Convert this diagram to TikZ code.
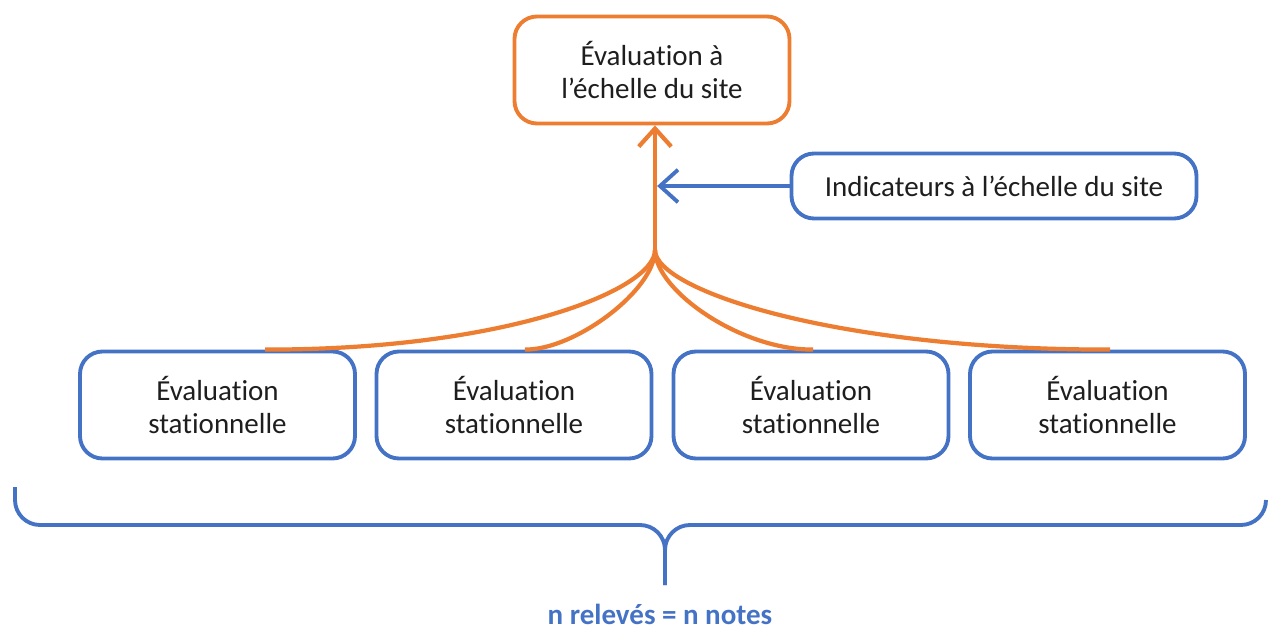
\documentclass[tikz,border=0pt]{standalone}
\usepackage{fontspec}
\setmainfont{Carlito}[Ligatures=NoCommon]
\usepackage{tikz}
\usetikzlibrary{positioning,arrows.meta,calc}
\definecolor{sitecolor}{RGB}{237,125,49}
\definecolor{stationcolor}{RGB}{68,114,196}
\definecolor{textcolor}{RGB}{30,30,30}

\tikzset{
  evalbox/.style={draw=stationcolor, line width=2.2pt, rounded corners=0.45cm,
    minimum width=5.5cm, minimum height=2.14cm, align=center, text=textcolor,
    font=\fontsize{16.5}{19}\selectfont},
  flow/.style={draw=sitecolor, line width=2.4pt},
  bracket/.style={draw=stationcolor, line width=2.2pt, rounded corners=0.5cm}
}

\begin{document}
\begin{tikzpicture}
  \useasboundingbox (0,0) rectangle (25.4,12.6);

  % Site
  \node[evalbox, draw=sitecolor] (site) at (13.04,11.2) {Évaluation à\\l’échelle du site};
  \node[evalbox, minimum width=8.1cm, minimum height=1.3cm] (indic) at (19.88,8.88) {Indicateurs à l’échelle du site};

  % Stations
  \node[evalbox] (st1) at (4.35,4.5) {Évaluation\\stationnelle};
  \node[evalbox] (st2) at (10.28,4.5) {Évaluation\\stationnelle};
  \node[evalbox] (st3) at (16.22,4.5) {Évaluation\\stationnelle};
  \node[evalbox] (st4) at (22.15,4.5) {Évaluation\\stationnelle};

  \coordinate (join) at (13.1,7.6);

  % Curves
  \draw[flow] (join) .. controls (13.1,6.8) and (10.1,5.6) .. ($(st1.north)+(0.95,0)$);
  \draw[flow] (join) .. controls (13.1,6.8) and (11.5,5.6) .. ($(st2.north)+(0.22,0)$);
  \draw[flow] (join) .. controls (13.1,6.8) and (14.8,5.6) .. ($(st3.north)+(0.04,0)$);
  \draw[flow] (join) .. controls (13.1,6.8) and (16.7,5.6) .. ($(st4.north)+(0.05,0)$);

  % Arrows
  \draw[flow, -{Straight Barb[length=3.6mm,width=6.5mm]}] (join) -- (join |- site.south);
  \draw[draw=stationcolor, line width=2.2pt, shorten >=1.2pt,
    -{Straight Barb[length=3.6mm,width=6.5mm]}] (indic.west) -- (join |- indic.west);

  % Bracket
  \node[font=\bfseries\fontsize{16.5}{19}\selectfont, text=stationcolor] (total) at (13.2,0.32) {n relevés = n notes};
  \coordinate (tip) at (13.3,0.9);
  \draw[bracket] (0.3,2.86) -- (0.3,2.1) -- (13.3,2.1) -- (tip);
  \draw[bracket] (tip) -- (13.3,2.1) -- (25.32,2.1) -- (25.32,2.6);
\end{tikzpicture}
\end{document}
